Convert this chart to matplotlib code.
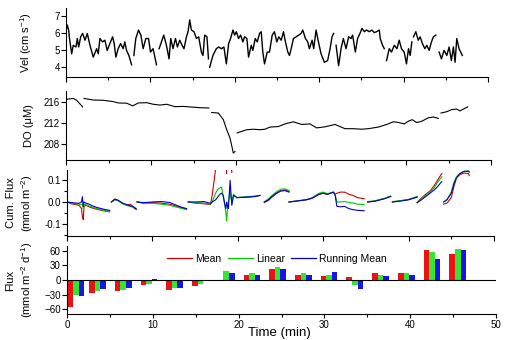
import numpy as np
import matplotlib
matplotlib.use('Agg')
import matplotlib.pyplot as plt
from matplotlib.lines import Line2D
from matplotlib.ticker import MultipleLocator

plt.rcParams['font.family'] = ['Liberation Sans', 'DejaVu Sans']
plt.rcParams['mathtext.default'] = 'regular'

# velocity (cm/s), segments separated by gaps
vel_t = [
    [0.0, 0.15, 0.32, 0.39, 0.67, 0.86, 1.18, 1.34, 1.50, 1.74, 1.97, 2.25, 2.52, 2.84, 3.23, 3.63,
     3.82, 4.02, 4.34, 4.61, 4.88, 5.20, 5.52, 5.71, 5.91, 6.18, 6.47, 6.77, 6.97, 7.17, 7.45, 7.77],
    [8.04, 8.27, 8.59, 8.87, 9.14, 9.46, 9.78, 10.01, 10.32, 10.72],
    [11.03, 11.31, 11.58, 11.90, 12.21, 12.41, 12.68, 12.97, 13.20, 13.48, 13.75, 13.98, 14.27, 14.46,
     14.66, 14.86, 15.17, 15.45, 15.72, 16.04, 16.23, 16.43, 16.70, 16.88],
    [17.02, 17.41, 17.81, 18.09, 18.40, 18.71, 19.0, 19.27, 19.50, 19.78, 19.98, 20.18, 20.45, 20.69,
     20.96, 21.16, 21.43, 21.63, 21.95, 22.14, 22.42, 22.66, 22.93, 23.13, 23.32, 23.52, 23.84, 24.11,
     24.43, 24.70, 24.98, 25.21, 25.50, 25.77, 26.0, 26.28, 26.48, 26.68, 26.95, 27.27, 27.58, 27.86,
     28.05, 28.37, 28.64, 28.84, 29.16, 29.35, 29.63, 29.91, 30.22, 30.61, 31.0, 31.29, 31.52, 31.71],
    [32.0, 32.3, 32.59, 32.86, 33.18, 33.49, 33.77, 33.96, 34.28, 34.55, 34.83, 35.07, 35.34, 35.61,
     35.93, 36.25, 36.52, 36.80, 37.12, 37.23, 37.51, 37.71],
    [37.98, 38.30, 38.57, 38.89, 39.21, 39.48, 39.75, 40.07, 40.34, 40.58, 40.78, 40.98],
    [41.17, 41.45, 41.73, 41.96, 42.23, 42.52, 42.75, 43.03, 43.30, 43.53, 43.82],
    [44.21, 44.48, 44.80, 45.12, 45.39, 45.66, 45.90, 46.10, 46.30, 46.57, 46.96],
]
vel_v = [
    [6.1, 6.5, 6.2, 5.8, 4.8, 5.3, 5.2, 5.7, 5.2, 5.8, 6.0, 5.6, 6.0, 5.3, 4.6, 5.1,
     4.8, 5.7, 5.5, 5.6, 5.0, 5.4, 5.8, 5.4, 4.6, 5.1, 5.4, 5.1, 5.5, 5.0, 4.7, 4.15],
    [4.7, 5.7, 6.2, 5.9, 5.1, 5.7, 5.7, 4.9, 5.1, 4.15],
    [5.1, 5.5, 5.9, 5.3, 4.5, 5.7, 5.1, 5.7, 5.2, 5.6, 5.3, 5.1, 5.8, 6.1,
     6.8, 6.2, 6.1, 5.7, 5.8, 4.9, 4.7, 5.9, 5.8, 4.5],
    [4.0, 4.7, 5.1, 5.2, 5.1, 5.2, 4.2, 5.4, 5.7, 6.2, 5.9, 6.1, 5.7, 5.9,
     5.5, 5.8, 5.7, 4.6, 5.3, 5.0, 5.7, 5.5, 6.0, 6.1, 4.9, 4.2, 4.9, 4.9,
     5.9, 6.1, 5.5, 5.8, 5.6, 6.1, 5.5, 4.9, 4.7, 5.1, 5.7, 5.8, 5.9, 6.0,
     6.2, 5.7, 5.5, 5.1, 5.6, 5.1, 6.2, 5.5, 4.8, 4.3, 4.4, 5.1, 5.8, 6.0],
    [5.3, 4.1, 5.1, 5.7, 5.1, 5.8, 5.7, 5.9, 4.9, 5.7, 6.0, 6.3, 6.1, 6.2,
     6.1, 6.2, 6.05, 6.1, 6.2, 5.7, 5.3, 5.1],
    [4.4, 5.1, 4.9, 5.3, 5.1, 5.6, 5.1, 4.9, 4.2, 5.1, 4.7, 5.5],
    [5.8, 6.1, 5.6, 5.8, 5.4, 5.1, 5.3, 5.0, 5.5, 5.8, 5.9],
    [4.9, 4.5, 5.0, 4.7, 5.2, 4.4, 5.2, 4.3, 5.7, 5.1, 4.7],
]

# dissolved oxygen (uM)
do_t = [
    [0.08, 0.86, 1.26, 1.96],
    [2.12, 3.21, 4.39, 5.56, 6.15, 7.14, 7.85, 8.51, 9.49, 10.27, 11.06, 11.85, 12.82, 13.8, 14.59,
     15.76, 16.82],
    [17.14, 17.92, 18.51, 18.91, 19.29, 19.56, 19.68, 19.88],
    [20.15, 20.67, 21.26, 22.04, 22.82, 23.41, 24.0, 24.98, 25.76, 26.74, 27.73, 28.71, 29.49, 30.47,
     31.65, 32.82, 33.8, 34.79, 35.56, 36.74, 37.73, 38.51, 39.18, 39.8, 40.27, 40.74, 41.26, 41.85,
     42.62, 43.21, 43.8],
    [44.12, 44.79, 45.38, 45.96, 46.35, 46.74, 47.26],
]
do_v = [
    [216.45, 216.6, 216.25, 215.0],
    [216.6, 216.3, 216.25, 216.0, 215.75, 215.7, 215.2, 215.75, 215.8, 215.5, 215.35, 215.5, 215.05,
     215.1, 215.0, 214.85, 214.8],
    [213.95, 213.85, 212.6, 210.7, 209.15, 207.25, 206.3, 206.6],
    [210.1, 210.4, 210.7, 210.8, 210.7, 210.8, 211.2, 211.3, 211.8, 212.2, 211.7, 211.8, 211.05,
     211.25, 211.7, 210.9, 210.9, 210.8, 210.9, 211.2, 211.7, 212.2, 212.05, 211.8, 212.3, 212.6,
     212.05, 212.3, 212.95, 213.1, 212.85],
    [213.85, 214.1, 214.5, 214.6, 214.25, 214.6, 215.0],
]

# cumulative flux (mmol m-2), three methods on a shared time base per segment
nan = np.nan
cf_t = [
    [0.0, 0.5, 1.0, 1.4, 1.7, 1.8, 1.9, 2.0, 2.2, 2.6, 3.0, 3.5, 4.0, 4.5, 5.0],
    [5.2, 5.6, 6.0, 6.5, 7.0, 7.4, 7.7, 8.1],
    [8.2, 9.0, 10.0, 11.0, 12.0, 12.5, 13.0, 13.5, 14.0],
    [14.2, 15.0, 16.0, 16.8, 17.0, 17.2, 17.4, 17.6, 17.9, 18.1, 18.3, 18.5, 18.6, 18.7, 18.8, 18.9,
     19.1, 19.2, 19.3, 19.5, 19.9, 21.0, 22.0, 22.6],
    [23.1, 23.6, 24.0, 24.5, 25.0, 25.5, 26.0],
    [26.0, 27.0, 28.0, 28.7, 29.5, 30.0, 30.5, 31.2, 31.4, 31.6, 32.0, 32.5, 33.0, 33.5, 34.0, 34.8],
    [35.2, 36.0, 36.5, 37.2, 37.9],
    [38.1, 39.0, 40.0, 41.0],
    [41.0, 41.5, 42.0, 42.5, 43.0, 43.4, 43.8, 43.9],
    [44.1, 44.5, 45.0, 45.3, 45.6, 46.0, 46.5, 47.0, 47.1],
]
cf_mean = [
    [0.0, -0.008, -0.012, -0.015, -0.03, -0.067, -0.08, -0.02, -0.015, -0.022, -0.028, -0.033, -0.038,
     -0.042, -0.045],
    [0.0, 0.014, 0.006, -0.006, -0.015, -0.01, -0.02, -0.03],
    [0.0, -0.005, -0.003, -0.005, -0.01, -0.015, -0.022, -0.028, -0.033],
    [0.0, -0.005, -0.008, -0.012, 0.03, 0.09, 0.15, 0.2, nan, nan, nan, nan, 0.18, 0.13, nan, nan,
     nan, 0.18, 0.135, nan, 0.02, 0.022, 0.025, 0.03],
    [-0.003, 0.008, 0.022, 0.038, 0.05, 0.055, 0.048],
    [0.0, 0.005, 0.01, 0.017, 0.035, 0.04, 0.035, 0.045, 0.035, 0.04, 0.045, 0.045, 0.035, 0.03,
     0.02, 0.015],
    [0.0, 0.004, 0.009, 0.016, 0.026],
    [0.0, 0.005, 0.011, 0.024],
    [-0.003, 0.018, 0.035, 0.05, 0.075, 0.1, 0.125, 0.13],
    [-0.01, -0.005, 0.02, 0.07, 0.11, 0.125, 0.132, 0.13, 0.12],
]
cf_linear = [
    [0.0, -0.004, -0.008, -0.01, -0.012, -0.01, -0.03, -0.012, -0.012, -0.018, -0.024, -0.03, -0.035,
     -0.04, -0.042],
    [0.0, 0.01, 0.005, -0.008, -0.016, -0.02, -0.024, -0.035],
    [0.0, -0.006, -0.006, -0.01, -0.015, -0.02, -0.025, -0.03, -0.035],
    [0.0, -0.003, -0.005, -0.01, 0.0, 0.02, 0.04, 0.055, 0.065, 0.068, 0.02, -0.02, -0.05, -0.088,
     -0.02, 0.0, 0.05, 0.02, 0.0, 0.035, 0.02, 0.024, 0.027, 0.03],
    [0.0, 0.015, 0.03, 0.045, 0.058, 0.06, 0.052],
    [0.0, 0.005, 0.01, 0.02, 0.04, 0.045, 0.038, 0.045, 0.035, 0.0, 0.0, 0.002, -0.002, -0.005,
     -0.01, -0.012],
    [0.002, 0.005, 0.01, 0.017, 0.027],
    [0.002, 0.006, 0.012, 0.025],
    [-0.003, 0.015, 0.03, 0.045, 0.065, 0.09, 0.11, 0.115],
    [0.0, 0.012, 0.045, 0.09, 0.115, 0.13, 0.14, 0.142, 0.135],
]
cf_running = [
    [0.0, -0.003, -0.005, -0.006, 0.0, 0.024, -0.02, 0.0, -0.005, -0.01, -0.018, -0.025, -0.03,
     -0.035, -0.038],
    [0.0, 0.012, 0.008, -0.005, -0.012, -0.018, -0.02, -0.033],
    [0.0, -0.003, 0.0, 0.002, -0.002, -0.01, -0.018, -0.025, -0.03],
    [0.0, 0.0, 0.002, -0.006, 0.0, 0.005, 0.01, 0.02, 0.035, 0.04, 0.03, -0.015, -0.03, 0.0, -0.02,
     -0.03, 0.099, 0.04, -0.015, 0.03, 0.02, 0.022, 0.025, 0.03],
    [0.0, 0.01, 0.025, 0.04, 0.05, 0.052, 0.045],
    [0.0, 0.005, 0.01, 0.017, 0.035, 0.04, 0.035, 0.045, 0.03, -0.02, -0.022, -0.02, -0.03, -0.035,
     -0.038, -0.04],
    [0.0, 0.003, 0.008, 0.015, 0.025],
    [0.0, 0.004, 0.01, 0.022],
    [-0.003, 0.01, 0.025, 0.04, 0.055, 0.07, 0.09, 0.092],
    [0.0, 0.01, 0.04, 0.08, 0.11, 0.13, 0.14, 0.14, 0.138],
]

# flux (mmol m-2 d-1) per 3-min window
flux_t = [1.06, 3.55, 6.55, 9.55, 12.55, 15.55, 18.55, 21.55, 24.55, 27.55, 30.55, 33.55, 36.55,
          39.55, 42.55, 45.55]
flux_mean = [-56, -26, -22, -10, -20, -12, 0, 10, 22, 10, 8, 7, 15, 15, 61, 53]
flux_linear = [-31, -22, -20, -8, -17, -8, 19, 15, 27, 15, 10, -10, 10, 15, 57, 64]
flux_running = [-33, -19, -16, 2, -16, -3, 15, 11, 22, 10, 16, -19, 8, 11, 43, 61]

labels = ['Mean', 'Linear', 'Running Mean']
line_colors = ['#d40000', '#00c800', '#0000cc']
bar_colors = ['#ee1111', '#33e633', '#1515e6']

fig = plt.figure(figsize=(5.08, 3.4), dpi=100)
W, H = 508.0, 340.0


def make_ax(x0, x1, y0, y1):
    ax = fig.add_axes([x0 / W, 1 - y1 / H, (x1 - x0) / W, (y1 - y0) / H])
    ax.spines['top'].set_visible(False)
    ax.spines['right'].set_visible(False)
    ax.set_xlim(0, 50)
    ax.xaxis.set_major_locator(MultipleLocator(10))
    ax.xaxis.set_minor_locator(MultipleLocator(5))
    ax.tick_params(which='major', direction='out', length=3.5, width=0.8, labelsize=7, pad=1)
    ax.tick_params(which='minor', direction='out', length=2, width=0.8)
    ax.yaxis.set_label_coords(-0.075, 0.5)
    return ax


ax1 = make_ax(66, 488, 8, 77)
for t, v in zip(vel_t, vel_v):
    ax1.plot(t, v, color='black', lw=1.0)
ax1.set_ylim(3.43, 7.5)
ax1.set_yticks([4, 5, 6, 7])
ax1.set_xticklabels([])
ax1.set_ylabel('Vel (cm s$^{-1}$)', fontsize=8)

ax2 = make_ax(66, 491, 91, 160)
for t, v in zip(do_t, do_v):
    ax2.plot(t, v, color='black', lw=0.8)
ax2.set_ylim(205, 218)
ax2.set_yticks([208, 212, 216])
ax2.set_xticklabels([])
ax2.set_ylabel('DO (\u03bcM)', fontsize=8)

ax3 = make_ax(67, 494, 170, 235.5)
for i, t in enumerate(cf_t):
    ax3.plot(t, cf_mean[i], color=line_colors[0], lw=0.8)
    ax3.plot(t, cf_linear[i], color=line_colors[1], lw=0.8)
    ax3.plot(t, cf_running[i], color=line_colors[2], lw=0.8)
ax3.set_ylim(-0.153, 0.146)
ax3.set_yticks([-0.1, 0.0, 0.1])
ax3.set_yticklabels(['-0.1', '0.0', '0.1'])
ax3.yaxis.set_minor_locator(MultipleLocator(0.05))
ax3.set_xticklabels([])
ax3.set_ylabel('Cum. Flux\n(mmol m$^{-2}$)', fontsize=8, linespacing=1.3)

ax4 = make_ax(67, 496, 246, 314)
ax4.tick_params(axis='x', which='major', length=3)
ft = np.array(flux_t)
bw = 0.65
ax4.bar(ft - bw, flux_mean, width=bw, color=bar_colors[0], lw=0)
ax4.bar(ft, flux_linear, width=bw, color=bar_colors[1], lw=0)
ax4.bar(ft + bw, flux_running, width=bw, color=bar_colors[2], lw=0)
ax4.axhline(0, color='black', lw=0.8)
ax4.set_ylim(-70, 70)
ax4.set_yticks([-60, -30, 0, 30, 60])
ax4.set_ylabel('Flux\n(mmol m$^{-2}$ d$^{-1}$)', fontsize=8, linespacing=1.3)
ax4.set_xlabel('Time (min)', fontsize=9.5)
ax4.xaxis.set_label_coords(0.495, -0.19)

handles = [Line2D([], [], color=c, lw=0.9) for c in line_colors]
ax4.legend(handles, labels, ncol=3, frameon=False, fontsize=7.5, loc='center',
           bbox_to_anchor=(0.49, 0.81), handlelength=2.4, handletextpad=0.3, columnspacing=0.6)

plt.savefig('out.png', dpi=100)
